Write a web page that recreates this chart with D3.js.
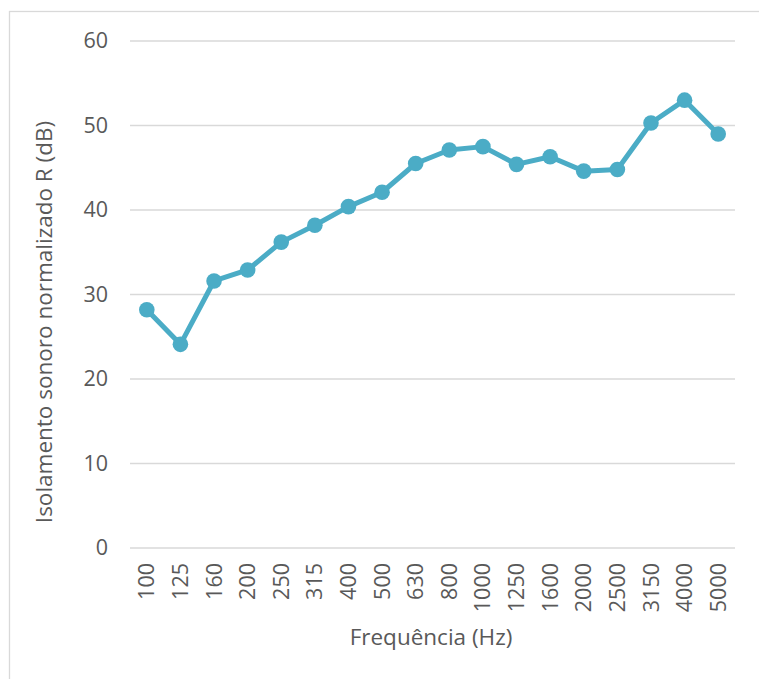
<!DOCTYPE html>
<html>
<head>
<meta charset="utf-8">
<script src="https://cdn.jsdelivr.net/npm/d3@7"></script>
<style>
  body { margin: 0; background: #fff; }
  text { font-family: "Open Sans", "Noto Sans", sans-serif; fill: #595959; }
</style>
</head>
<body>
<div id="chart"></div>
<script>
// Chart data
var frequencies = ["100", "125", "160", "200", "250", "315", "400", "500", "630", "800",
                   "1000", "1250", "1600", "2000", "2500", "3150", "4000", "5000"];
var isolation = [28.2, 24.1, 31.6, 32.9, 36.2, 38.2, 40.4, 42.1, 45.5, 47.1,
                 47.5, 45.4, 46.3, 44.6, 44.8, 50.3, 53.0, 49.0];
var yTicks = [0, 10, 20, 30, 40, 50, 60];

function drawChart() {
    var width = 759, height = 679;
    var margin = {top: 41, right: 24, bottom: 131, left: 130};

    var svg = d3.select("#chart")
        .append("svg")
        .attr("width", width)
        .attr("height", height);

    // chart area border
    svg.append("rect")
        .attr("x", 9.5).attr("y", 11.5)
        .attr("width", width + 10).attr("height", height + 10)
        .attr("fill", "none")
        .attr("stroke", "#d9d9d9")
        .attr("stroke-width", 1.3);

    var x = d3.scaleBand()
        .domain(frequencies)
        .range([margin.left, width - margin.right]);

    var y = d3.scaleLinear()
        .domain([0, 60])
        .range([height - margin.bottom, margin.top]);

    //Gridlines
    svg.append("g")
        .selectAll("line")
        .data(yTicks)
        .enter()
        .append("line")
        .attr("x1", margin.left)
        .attr("x2", width - margin.right)
        .attr("y1", function(d) { return y(d); })
        .attr("y2", function(d) { return y(d); })
        .style("stroke", "#d9d9d9")
        .style("stroke-width", 1.3);

    //Y axis labels
    var yAxis = svg.append("g")
        .attr("transform", "translate(" + (margin.left - 22) + ",0)")
        .call(d3.axisLeft(y).tickValues(yTicks).tickSize(0).tickPadding(0));
    yAxis.select(".domain").remove();
    yAxis.selectAll("text")
        .style("font-size", "21.5px")
        .style("fill", "#595959")
        .style("font-family", "'Open Sans', sans-serif");

    //X axis labels (rotated)
    var xAxis = svg.append("g")
        .attr("transform", "translate(0," + (height - margin.bottom) + ")")
        .call(d3.axisBottom(x).tickSize(0).tickPadding(0));
    xAxis.select(".domain").remove();
    xAxis.selectAll("text")
        .attr("transform", "rotate(-90)")
        .attr("x", -15)
        .attr("y", 0)
        .attr("dy", "0.35em")
        .style("text-anchor", "end")
        .style("font-size", "21.5px")
        .style("fill", "#595959")
        .style("font-family", "'Open Sans', sans-serif");

    //Line
    var line = d3.line()
        .x(function(d, i) { return x(frequencies[i]) + x.bandwidth() / 2; })
        .y(function(d) { return y(d); });

    svg.append("path")
        .datum(isolation)
        .attr("d", line)
        .attr("fill", "none")
        .attr("stroke", "#4bacc6")
        .attr("stroke-width", 5)
        .attr("stroke-linejoin", "round");

    svg.selectAll("circle")
        .data(isolation)
        .enter()
        .append("circle")
        .attr("cx", function(d, i) { return x(frequencies[i]) + x.bandwidth() / 2; })
        .attr("cy", function(d) { return y(d); })
        .attr("r", 7.8)
        .style("fill", "#4bacc6");

    //Axis titles
    svg.append("text")
        .attr("transform", "translate(52,322) rotate(-90)")
        .attr("text-anchor", "middle")
        .style("font-size", "22.5px")
        .text("Isolamento sonoro normalizado R (dB)");

    svg.append("text")
        .attr("x", 431)
        .attr("y", 645)
        .attr("text-anchor", "middle")
        .style("font-size", "22.5px")
        .text("Frequência (Hz)");
}

if (document.readyState === "loading") {
    document.addEventListener("DOMContentLoaded", drawChart);
} else {
    drawChart();
}
</script>
</body>
</html>
